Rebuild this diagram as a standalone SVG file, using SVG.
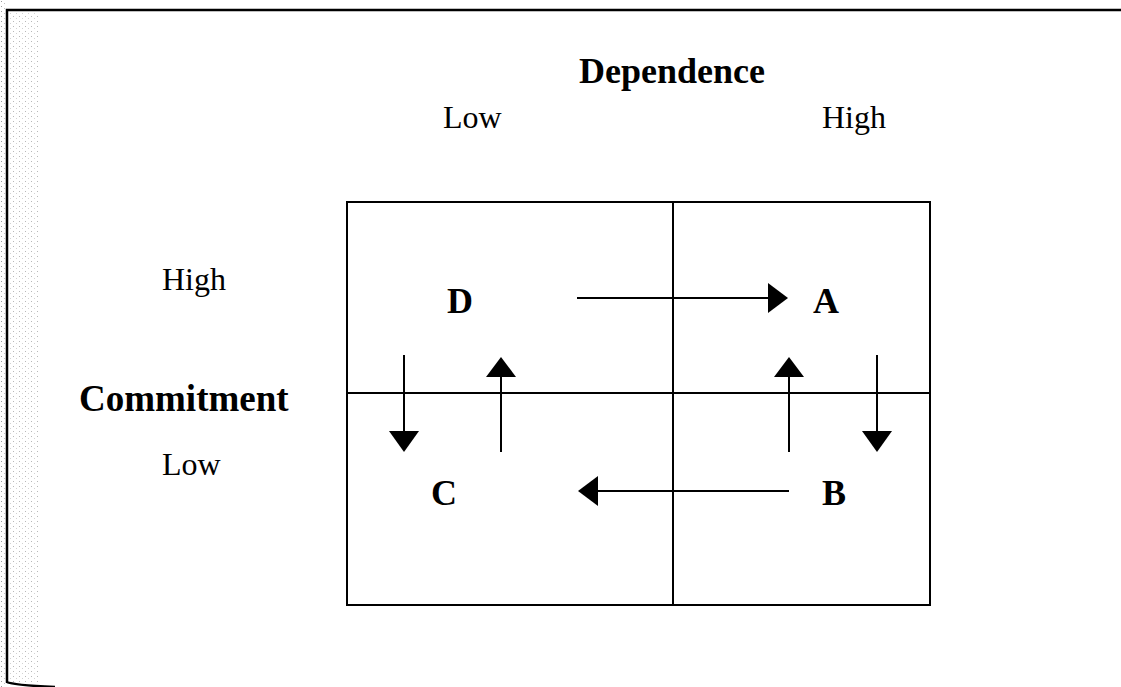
<svg xmlns="http://www.w3.org/2000/svg" width="1121" height="687" viewBox="0 0 1121 687">
<defs>
<pattern id="dots" width="6" height="5" patternUnits="userSpaceOnUse">
<rect x="1" y="1" width="1" height="1" fill="#9a9a9a"/>
<rect x="4" y="3" width="1" height="1" fill="#c0c0c0"/>
</pattern>
<style>
.ln{stroke:#000;stroke-width:2;fill:none}
.ah{fill:#000}
.lab{font-family:"Liberation Serif",serif;font-size:32px;fill:#000}
.bold{font-family:"Liberation Serif",serif;font-weight:bold;font-size:36px;fill:#000}
</style>
</defs>
<rect width="1121" height="687" fill="#fff"/>
<g id="frame">
<rect x="0" y="0" width="7" height="687" fill="url(#dots)"/>
<rect x="9" y="12" width="30" height="670" fill="url(#dots)" opacity="0.7"/>
<path d="M1121,10 L7,10 L7,682 Q12,685 55,687" stroke="#000" stroke-width="2.5" fill="none"/>
</g>
<g id="grid">
<rect x="347" y="202" width="583" height="403" class="ln"/>
<line x1="673" y1="202" x2="673" y2="605" class="ln"/>
<line x1="347" y1="393" x2="930" y2="393" class="ln"/>
</g>
<g id="labels">
<text id="dependence" x="672" y="83" class="bold" text-anchor="middle">Dependence</text>
<text id="dep-low" x="443" y="128" class="lab">Low</text>
<text id="dep-high" x="822" y="128" class="lab">High</text>
<text id="com-high" x="162" y="290" class="lab">High</text>
<text id="commitment" x="79" y="411" class="bold" style="font-size:37px">Commitment</text>
<text id="com-low" x="162" y="475" class="lab">Low</text>
</g>
<g id="node-D"><text x="447" y="313" class="bold">D</text></g>
<g id="node-A"><text x="813" y="313" class="bold">A</text></g>
<g id="node-C"><text x="431" y="505" class="bold">C</text></g>
<g id="node-B"><text x="822" y="505" class="bold">B</text></g>
<g id="connectors">
<line x1="577" y1="298" x2="770" y2="298" class="ln"/>
<polygon points="768,283 788,298 768,313" class="ah"/>
<line x1="789" y1="491" x2="596" y2="491" class="ln"/>
<polygon points="598,476 578,491 598,506" class="ah"/>
<line x1="404" y1="355" x2="404" y2="433" class="ln"/>
<polygon points="389,431 419,431 404,452" class="ah"/>
<line x1="501" y1="452" x2="501" y2="375" class="ln"/>
<polygon points="486,377 516,377 501,357" class="ah"/>
<line x1="789" y1="452" x2="789" y2="375" class="ln"/>
<polygon points="774,377 804,377 789,357" class="ah"/>
<line x1="877" y1="355" x2="877" y2="433" class="ln"/>
<polygon points="862,431 892,431 877,452" class="ah"/>
</g>
</svg>
